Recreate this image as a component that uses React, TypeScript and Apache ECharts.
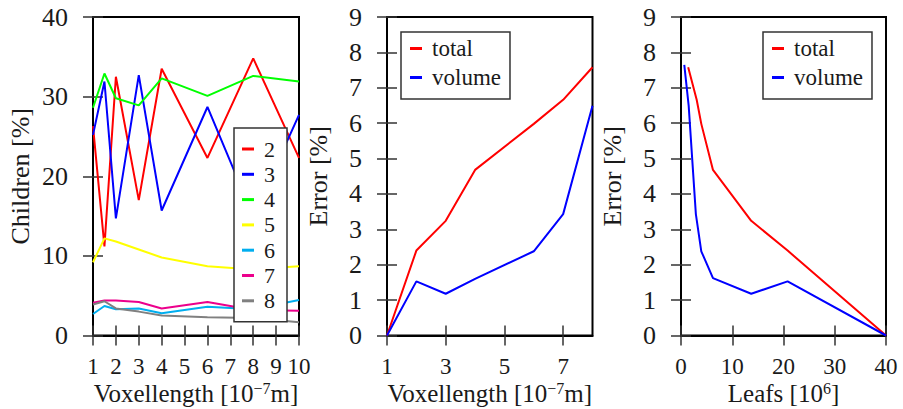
import React, { useEffect, useRef } from "react";
import * as echarts from "echarts";

// ---- Left panel data ----
const voxelLeft = [1, 1.5, 2, 3, 4, 6, 8, 10];
const children2 = [26.3, 11.2, 32.5, 17.0, 33.5, 22.3, 34.8, 22.3];
const children3 = [25.2, 31.9, 14.7, 32.7, 15.7, 28.7, 15.0, 27.7];
const children4 = [28.6, 32.9, 29.8, 28.9, 32.3, 30.1, 32.6, 31.9];
const children5 = [9.2, 12.2, 11.8, 10.8, 9.8, 8.7, 8.3, 8.7];
const children6 = [2.7, 3.7, 3.3, 3.4, 2.8, 3.6, 3.3, 4.45];
const children7 = [4.1, 4.4, 4.4, 4.2, 3.4, 4.2, 3.2, 3.1];
const children8 = [3.9, 4.3, 3.4, 3.0, 2.5, 2.3, 2.2, 1.65];
const childNames = ["2", "3", "4", "5", "6", "7", "8"];
const leftXTicks = [1, 2, 3, 4, 5, 6, 7, 8, 9, 10];
const leftYTicks = [0, 10, 20, 30, 40];

// ---- Middle panel data ----
const voxelMid = [1, 2, 3, 4, 6, 7, 8];
const errTotalMid = [0, 2.4, 3.24, 4.68, 5.98, 6.66, 7.58];
const errVolumeMid = [0, 1.53, 1.18, 1.6, 2.38, 3.43, 6.49];
const midXTicks = [1, 3, 5, 7];
const errYTicks = [0, 1, 2, 3, 4, 5, 6, 7, 8, 9];

// ---- Right panel data ----
const leafsTotal = [1.4, 3.06, 3.96, 6.24, 13.7, 20.8, 40];
const errTotalRight = [7.58, 6.66, 5.98, 4.68, 3.24, 2.4, 0];
const leafsVolume = [0.64, 1.5, 2.9, 3.96, 6.24, 13.7, 20.8, 40];
const errVolumeRight = [7.65, 6.49, 3.43, 2.38, 1.62, 1.18, 1.53, 0];
const rightXTicks = [0, 10, 20, 30, 40];
const errNames = ["total", "volume"];

const FONT = "Liberation Serif";
const TXT = "#1a1a1a";
const childColors = ["#ff0000", "#0000ff", "#00ff00", "#ffff00", "#00aeef", "#ec008c", "#808080"];

const zip = (xs: number[], ys: number[]) => xs.map((x, i) => [x, ys[i]]);

function mainAxis(grid: number, min: number, max: number, ticks: number[], pos: string, name: any, nameGap: number, labelMargin: number, labelSize: number, nameSize: number) {
  return {
    type: "value",
    gridIndex: grid,
    min,
    max,
    position: pos,
    name,
    nameLocation: "middle",
    nameGap,
    nameMoveOverlap: false,
    nameTextStyle: {
      fontFamily: FONT,
      fontSize: nameSize,
      color: TXT,
      rich: {
        sup: { fontFamily: FONT, fontSize: 16, color: TXT, verticalAlign: "top", lineHeight: 12 },
      },
    },
    axisLine: { show: true, onZero: false, lineStyle: { color: "#000", width: 2 } },
    axisTick: { show: true, inside: false, length: 10, customValues: ticks, lineStyle: { color: "#333", width: 1.5 } },
    axisLabel: { show: true, customValues: ticks, margin: labelMargin, fontFamily: FONT, fontSize: labelSize, color: TXT },
    splitLine: { show: false },
  };
}

function innerAxis(grid: number, min: number, max: number, ticks: number[], pos: string) {
  return {
    type: "value",
    gridIndex: grid,
    min,
    max,
    position: pos,
    axisLine: { show: false, onZero: false },
    axisTick: { show: true, inside: true, length: 10, customValues: ticks, lineStyle: { color: "#333", width: 1.5 } },
    axisLabel: { show: false },
    splitLine: { show: false },
  };
}

function legendBox(left: number, top: number, names: string[], fontSize: number, gap: number, padding: number[]) {
  return {
    orient: "vertical",
    left,
    top,
    data: names,
    icon: "rect",
    itemWidth: 12,
    itemHeight: 3,
    itemGap: gap,
    backgroundColor: "#fff",
    borderColor: "#333",
    borderWidth: 1.5,
    borderRadius: 0,
    padding,
    selectedMode: false,
    textStyle: { fontFamily: FONT, fontSize, lineHeight: fontSize, color: TXT, padding: [0, 0, 0, 5] },
  };
}

const gridBase = { show: true, borderColor: "#000", borderWidth: 2, containLabel: false, outerBoundsMode: "none" };

export default function App() {
  const ref = useRef<HTMLDivElement>(null);
  useEffect(() => {
    if (!ref.current) return;
    const chart = echarts.init(ref.current, undefined, { renderer: "svg" });
    const xName = "Voxellength [10{sup|−7}m]";
    const childSeries = [children2, children3, children4, children5, children6, children7, children8].map((ys, i) => ({
      type: "line",
      name: childNames[i],
      xAxisIndex: 0,
      yAxisIndex: 0,
      data: zip(voxelLeft, ys),
      showSymbol: false,
      symbol: "none",
      color: childColors[i],
      lineStyle: { width: 2, color: childColors[i] },
    }));
    const mk = (name: string, color: string, xi: number, yi: number, data: number[][]) => ({
      type: "line",
      name,
      xAxisIndex: xi,
      yAxisIndex: yi,
      data,
      showSymbol: false,
      symbol: "none",
      color,
      lineStyle: { width: 2, color },
    });
    const option: any = {
      animation: false,
      backgroundColor: "#fff",
      grid: [
        { ...gridBase, left: 93, top: 17, width: 206, height: 318.5 },
        { ...gridBase, left: 387, top: 17, width: 205.5, height: 318.5 },
        { ...gridBase, left: 681, top: 17, width: 205, height: 318.5 },
      ],
      xAxis: [
        mainAxis(0, 1, 10, leftXTicks, "bottom", xName, 45, 19, 23, 25),
        innerAxis(0, 1, 10, leftXTicks, "bottom"),
        mainAxis(1, 1, 8, midXTicks, "bottom", xName, 45, 19, 23, 25),
        innerAxis(1, 1, 8, midXTicks, "bottom"),
        mainAxis(2, 0, 40, rightXTicks, "bottom", "Leafs [10{sup|6}]", 45, 19, 23, 25),
        innerAxis(2, 0, 40, rightXTicks, "bottom"),
      ],
      yAxis: [
        mainAxis(0, 0, 40, leftYTicks, "left", "Children [%]", 60, 25, 26, 26),
        innerAxis(0, 0, 40, leftYTicks, "left"),
        mainAxis(1, 0, 9, errYTicks, "left", "Error [%]", 56, 25, 26, 26),
        innerAxis(1, 0, 9, errYTicks, "left"),
        mainAxis(2, 0, 9, errYTicks, "left", "Error [%]", 56, 25, 26, 26),
        innerAxis(2, 0, 9, errYTicks, "left"),
      ],
      legend: [
        legendBox(234, 128, childNames, 22, 3.3, [10, 12, 10, 8]),
        legendBox(401, 32, errNames, 23, 6, [5, 9, 10, 9]),
        legendBox(763, 32, errNames, 23, 6, [5, 9, 10, 9]),
      ],
      series: [
        ...childSeries,
        mk("total", "#ff0000", 2, 2, zip(voxelMid, errTotalMid)),
        mk("volume", "#0000ff", 2, 2, zip(voxelMid, errVolumeMid)),
        mk("total", "#ff0000", 4, 4, zip(leafsTotal, errTotalRight)),
        mk("volume", "#0000ff", 4, 4, zip(leafsVolume, errVolumeRight)),
      ],
    };
    chart.setOption(option);
    return () => chart.dispose();
  }, []);
  return <div ref={ref} style={{ position: "fixed", left: 0, top: 0, width: 903, height: 409 }} />;
}
